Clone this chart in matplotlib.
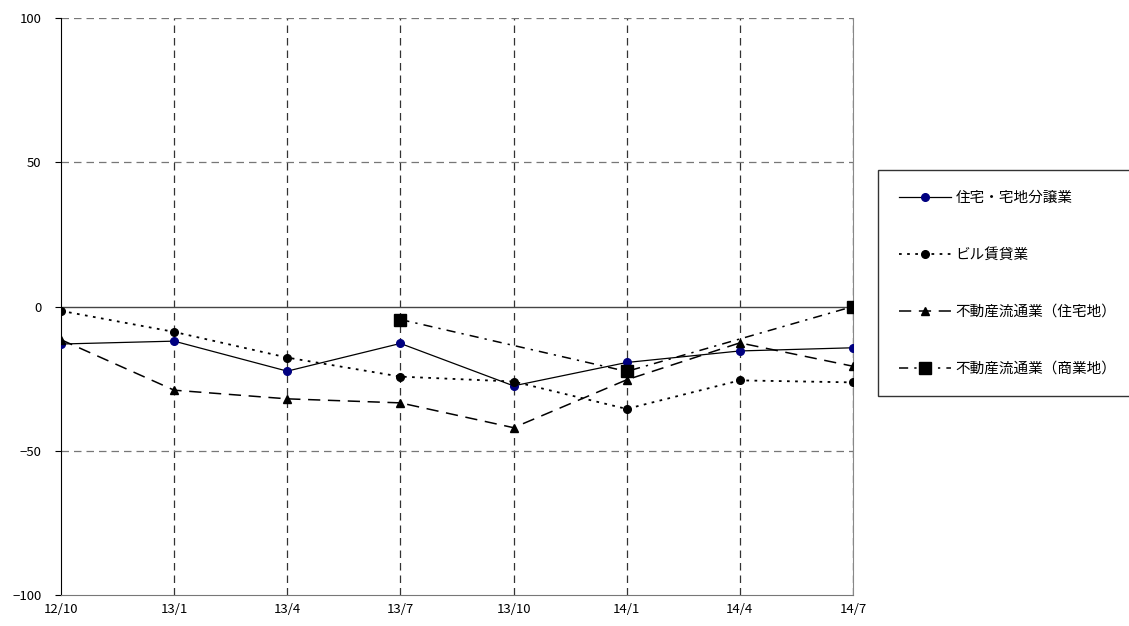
import numpy as np
import matplotlib.pyplot as plt

plt.rcParams['font.family'] = ['Noto Sans CJK JP', 'DejaVu Sans']

# データ
periods = ['12/10', '13/1', '13/4', '13/7', '13/10', '14/1', '14/4', '14/7']
jutaku = [-13, -12, -22.4, -12.8, -27.5, -19.4, -15.4, -14.3]
biru = [-1.5, -8.8, -17.7, -24.3, -26, -35.5, -25.6, -26.3]
ryutsu_jutaku = [-11.5, -29, -32, -33.4, -42, -25.4, -12.6, -20.7]
ryutsu_shogyo = [np.nan, np.nan, np.nan, -4.5, np.nan, -22.5, np.nan, 0]
names = ['住宅・宅地分譲業', 'ビル賃貸業', '不動産流通業（住宅地）', '不動産流通業（商業地）']

fig = plt.figure(figsize=(11.29, 6.26), dpi=100)
ax = fig.add_axes([0.054, 0.0495, 0.7015, 0.9217])

x = np.arange(len(periods))

# グリッド
for xi in x[1:]:
    ax.axvline(xi, color='#333333', lw=0.9, ls=(0, (6, 4)), zorder=1)
for yv in [50, -50, 100]:
    ax.axhline(yv, color='#777777', lw=0.9, ls=(0, (6, 4)), zorder=1)
ax.axhline(0, color='#444444', lw=1.0, zorder=1)

h1, = ax.plot(x, jutaku, color='black', lw=0.9, marker='o', ms=5.5,
              mfc='#000080', mec='#000080', zorder=3)
h2, = ax.plot(x, biru, color='black', lw=1.3, ls=(0, (1.5, 3)), marker='o', ms=5.5,
              mfc='black', mec='black', zorder=3)
h3, = ax.plot(x, ryutsu_jutaku, color='black', lw=1.1, ls=(0, (8, 5)), marker='^', ms=6,
              mfc='black', mec='black', zorder=3)
s = np.array(ryutsu_shogyo)
m = ~np.isnan(s)
h4, = ax.plot(x[m], s[m], color='black', lw=1.1, ls=(0, (6, 4, 1.5, 4)), marker='s', ms=9,
              mfc='black', mec='black', zorder=4)

ax.set_xlim(0, len(periods) - 1)
ax.set_ylim(-100, 100)
ax.set_yticks([-100, -50, 0, 50, 100])
ax.set_yticklabels(['−100', '−50', '0', '50', '100'])
ax.set_xticks(x)
ax.set_xticklabels(periods, fontsize=9.5)
ax.tick_params(axis='y', length=4, labelsize=9.5, pad=10)
ax.tick_params(axis='x', length=0, pad=6)

ax.spines['top'].set_visible(False)
ax.spines['left'].set_color('black')
ax.spines['bottom'].set_color('#777777')
ax.spines['right'].set_color('#888888')

fig.legend([h1, h2, h3, h4], names, loc='upper left',
           bbox_to_anchor=(0.778, 0.728), frameon=True, fancybox=False,
           edgecolor='black', fontsize=10.5, handlelength=3.6, labelspacing=2.95,
           borderpad=1.4, handletextpad=0.3, borderaxespad=0)

fig.savefig('out.png', dpi=100)
